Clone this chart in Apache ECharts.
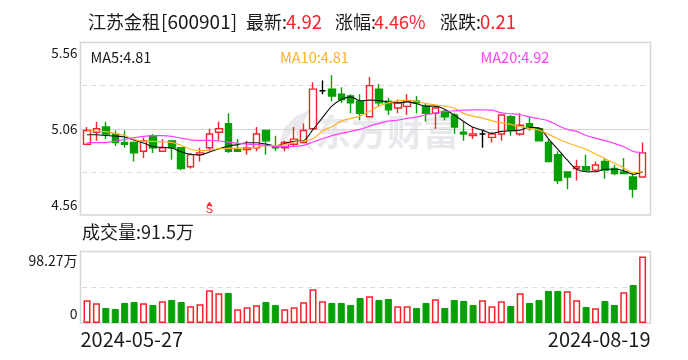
<!DOCTYPE html>
<html><head><meta charset="utf-8">
<style>html,body{margin:0;padding:0;background:#fff}#c{width:688px;height:360px}</style>
<script src="https://cdn.jsdelivr.net/npm/echarts@6/dist/echarts.min.js"></script>
</head><body><div id="c"></div>
<script>
const dates = ["2024-05-27","2024-05-28","2024-05-29","2024-05-30","2024-05-31","2024-06-03","2024-06-04","2024-06-05","2024-06-06","2024-06-07","2024-06-11","2024-06-12","2024-06-13","2024-06-14","2024-06-17","2024-06-18","2024-06-19","2024-06-20","2024-06-21","2024-06-24","2024-06-25","2024-06-26","2024-06-27","2024-06-28","2024-07-01","2024-07-02","2024-07-03","2024-07-04","2024-07-05","2024-07-08","2024-07-09","2024-07-10","2024-07-11","2024-07-12","2024-07-15","2024-07-16","2024-07-17","2024-07-18","2024-07-19","2024-07-22","2024-07-23","2024-07-24","2024-07-25","2024-07-26","2024-07-29","2024-07-30","2024-07-31","2024-08-01","2024-08-02","2024-08-05","2024-08-06","2024-08-07","2024-08-08","2024-08-09","2024-08-12","2024-08-13","2024-08-14","2024-08-15","2024-08-16","2024-08-19"];
const opens  = [4.97,5.04,5.07,5.03,4.98,4.98,4.93,5.02,4.93,4.99,4.95,4.84,4.91,4.95,5.04,5.09,4.94,4.94,4.95,5.05,4.96,4.95,4.97,4.98,5.06,5.28,5.29,5.26,5.25,5.22,5.13,5.29,5.22,5.18,5.19,5.22,5.19,5.15,5.16,5.14,5.04,5.02,5.03,5.01,5.03,5.13,5.03,5.09,5.06,4.98,4.91,4.81,4.83,4.84,4.82,4.87,4.83,4.81,4.78,4.78];
const closes = [5.05,5.06,5.03,4.98,4.97,4.92,4.99,4.95,4.95,4.95,4.83,4.91,4.92,5.03,5.06,4.93,4.93,4.95,5.03,4.99,4.95,4.98,5.00,5.05,5.29,5.28,5.25,5.23,5.21,5.15,5.31,5.21,5.17,5.21,5.22,5.21,5.15,5.18,5.13,5.07,5.03,5.03,5.03,5.03,5.14,5.05,5.08,5.07,4.99,4.87,4.76,4.78,4.84,4.82,4.85,4.82,4.80,4.80,4.71,4.92];
const lows   = [4.97,4.99,5.00,4.96,4.95,4.87,4.89,4.92,4.93,4.88,4.82,4.83,4.87,4.93,4.99,4.92,4.93,4.91,4.93,4.91,4.93,4.93,4.96,4.98,5.06,5.26,5.22,5.21,5.15,5.11,5.13,5.19,5.14,5.15,5.14,5.15,5.10,5.06,5.11,5.03,4.99,5.00,4.95,4.98,4.99,5.02,5.02,5.05,4.99,4.87,4.74,4.71,4.76,4.82,4.81,4.77,4.79,4.80,4.66,4.78];
const highs  = [5.07,5.10,5.10,5.05,5.05,4.98,5.01,5.03,5.00,4.99,4.95,4.92,4.95,5.06,5.10,5.15,5.00,4.99,5.07,5.05,5.02,4.99,5.07,5.09,5.33,5.34,5.37,5.30,5.26,5.26,5.36,5.32,5.24,5.23,5.26,5.25,5.21,5.19,5.17,5.15,5.10,5.07,5.05,5.04,5.14,5.14,5.15,5.13,5.07,5.00,4.93,4.81,4.88,4.91,4.87,4.89,4.85,4.89,4.80,4.98];
const ma5  = [5.025,5.025,5.021,5.018,5.012,4.994,4.977,4.956,4.952,4.948,4.927,4.912,4.908,4.925,4.944,4.96,4.968,4.979,4.979,4.971,4.96,4.975,4.987,4.991,5.056,5.124,5.191,5.23,5.245,5.222,5.226,5.224,5.214,5.21,5.216,5.205,5.191,5.191,5.172,5.139,5.102,5.068,5.052,5.033,5.045,5.048,5.052,5.068,5.064,5.002,4.941,4.879,4.825,4.811,4.811,4.825,4.825,4.817,4.796,4.81];
const ma10 = [5.047,5.045,5.043,5.033,5.021,4.998,4.987,4.987,4.985,4.981,4.964,4.941,4.933,4.937,4.944,4.946,4.948,4.948,4.952,4.962,4.962,4.968,4.983,4.989,5.002,5.047,5.072,5.104,5.12,5.133,5.162,5.191,5.21,5.222,5.226,5.218,5.206,5.199,5.191,5.179,5.149,5.133,5.122,5.106,5.095,5.085,5.072,5.062,5.052,5.029,5.002,4.979,4.96,4.941,4.914,4.887,4.86,4.833,4.806,4.81];
const ma20 = [4.979,4.979,4.979,4.989,4.998,5.008,5.016,5.02,5.02,5.016,5.006,4.996,4.993,4.993,4.989,4.983,4.975,4.971,4.968,4.964,4.958,4.958,4.958,4.964,4.983,5.002,5.02,5.033,5.045,5.056,5.075,5.091,5.104,5.11,5.12,5.127,5.141,5.151,5.16,5.164,5.168,5.17,5.17,5.168,5.152,5.147,5.141,5.129,5.118,5.106,5.079,5.056,5.045,5.021,5.006,4.991,4.975,4.956,4.929,4.921];
const volumes  = [31.2,27.1,20.7,19.3,27.5,28.9,27.1,24.8,29.8,31.7,28.9,23.0,25.7,45.0,40.9,41.3,18.8,21.6,24.3,28.9,24.8,18.8,21.6,28.5,46.4,29.8,27.5,27.5,24.8,34.4,36.7,31.7,33.0,23.0,23.0,20.7,27.5,32.6,20.7,31.7,30.3,24.8,31.2,23.0,29.8,23.4,40.9,27.5,31.7,44.1,44.1,43.6,31.2,22.0,20.2,30.3,24.8,42.2,52.3,91.5];
const volumeUp = [1,1,0,0,0,0,1,0,1,0,0,1,1,1,1,0,1,1,1,0,0,1,1,1,1,1,0,0,0,0,1,0,0,1,1,0,0,1,0,0,0,0,1,1,1,0,1,0,0,0,0,1,1,0,1,0,0,1,0,1];
const priceTicks = [4.56,5.06,5.56];
const priceDashes = [4.81,5.31];
const volumeTicks = [0,98.27];
const volumeDash = [49.135];
const dateLabels = ["2024-05-27","2024-08-19"];
const signalIndex = 13;

const RED='#f5242c', GREEN='#05a005', GRID='#d6d6d6', TXT='#1a1a1a';
const FONT='"Noto Sans CJK SC","Noto Sans",sans-serif';
const frame=(top,height)=>({left:80.5,width:570,top,height,show:true,borderColor:GRID,borderWidth:1.5,backgroundColor:'transparent'});
const inner=(top,height)=>({left:82.3,width:565,top,height});
const t=(x,y,text,fill,size)=>({type:'text',x,y,silent:true,style:{text,fill,font:`${size}px ${FONT}`,textVerticalAlign:'middle'}});
const chart=echarts.init(document.getElementById('c'),null,{renderer:'canvas'});
const dash={show:true,lineStyle:{color:'#dcdcdc',type:[5,4],width:1}};
const hiddenCat=(gridIndex)=>({type:'category',gridIndex,data:dates,show:false,boundaryGap:true});
chart.setOption({
  animation:false,
  backgroundColor:'#fff',
  grid:[frame(42.5,172.5),frame(251.5,71.5),inner(42.5,172.5),inner(251.5,71.5)],
  xAxis:[
    {type:'category',gridIndex:0,data:dateLabels,show:false,boundaryGap:false},
    {type:'category',gridIndex:1,data:dateLabels,boundaryGap:false,axisLine:{show:false},axisTick:{show:false},
     axisLabel:{show:true,interval:0,color:TXT,fontFamily:FONT,fontSize:20,margin:6,alignMinLabel:'left',alignMaxLabel:'right',hideOverlap:false}},
    hiddenCat(2),hiddenCat(3)
  ],
  yAxis:[
    {type:'value',gridIndex:0,min:4.56,max:5.56,axisLine:{show:false},axisTick:{show:false,customValues:[5.06]},
     splitLine:{show:true,lineStyle:{color:GRID,width:1}},
     axisLabel:{customValues:priceTicks,formatter:v=>v.toFixed(2),color:TXT,fontFamily:FONT,fontSize:13.5,margin:3,lineHeight:20,verticalAlignMinLabel:'bottom',verticalAlignMaxLabel:'top'}},
    {type:'value',gridIndex:1,min:0,max:98.27,axisLine:{show:false},axisTick:{show:false,customValues:[]},splitLine:{show:false},
     axisLabel:{customValues:volumeTicks,formatter:v=>v?v+'万':'0',color:TXT,fontFamily:FONT,fontSize:14,margin:3,lineHeight:18,verticalAlignMinLabel:'bottom',verticalAlignMaxLabel:'top'}},
    {type:'value',gridIndex:2,min:4.56,max:5.56,axisLine:{show:false},axisTick:{show:false,customValues:priceDashes},axisLabel:{show:false},splitLine:dash},
    {type:'value',gridIndex:3,min:0,max:98.27,axisLine:{show:false},axisTick:{show:false,customValues:volumeDash},axisLabel:{show:false},splitLine:dash}
  ],
  graphic:[
    {type:'text',x:315,y:132,z:-1,silent:true,style:{text:'东方财富',fill:'#e9e9ed',font:`bold 36px ${FONT}`,textVerticalAlign:'middle'}},
    {type:'polygon',z:-1,silent:true,shape:{points:[[278,150],[284,128],[296,116],[310,110],[303,124],[306,136],[314,152],[302,144],[294,130],[285,140]]},style:{fill:'#e9e9ed'}},
    t(88,22,'江苏金租',TXT,18),t(161,22,'[600901]',TXT,19),t(246,22,'最新:',TXT,18),t(286,22,'4.92',RED,18.5),
    t(335,22,'涨幅:',TXT,18),t(374,22,'4.46%',RED,18),t(440,22,'涨跌:',TXT,18),t(480,22,'0.21',RED,18.5),
    t(90.5,57,'MA5:4.81','#1a1a1a',14.5),t(280,57,'MA10:4.81','#ffb11f',14.5),t(480.5,57,'MA20:4.92','#ff40ff',14.5),
    t(82,232,'成交量:91.5万',TXT,18)
  ],
  series:[
    {type:'candlestick',xAxisIndex:2,yAxisIndex:2,barWidth:7,z:2,
     data:dates.map((d,i)=>[opens[i],closes[i],lows[i],highs[i]]),
     itemStyle:{color:'#fff',color0:GREEN,borderColor:RED,borderColor0:GREEN,borderColorDoji:'#000',borderWidth:1.4},
     markPoint:{silent:true,symbol:'triangle',symbolSize:[6,4],
       itemStyle:{color:RED},
       data:[{coord:[signalIndex,4.625],label:{show:true,formatter:'S',color:RED,fontSize:11,fontFamily:'Liberation Sans',position:'bottom',distance:-1}}]}},
    {type:'line',name:'MA5',xAxisIndex:2,yAxisIndex:2,data:ma5,smooth:0.3,showSymbol:false,z:3,lineStyle:{color:'#111',width:1.1}},
    {type:'line',name:'MA10',xAxisIndex:2,yAxisIndex:2,data:ma10,smooth:0.3,showSymbol:false,z:3,lineStyle:{color:'#ffb11f',width:1.2}},
    {type:'line',name:'MA20',xAxisIndex:2,yAxisIndex:2,data:ma20,smooth:0.3,showSymbol:false,z:3,lineStyle:{color:'#ff40ff',width:1.2}},
    {type:'bar',xAxisIndex:3,yAxisIndex:3,barWidth:7,
     data:volumes.map((v,i)=>({value:v,itemStyle:volumeUp[i]?{color:'#fff',borderColor:RED,borderWidth:1.5}:{color:GREEN,borderColor:GREEN,borderWidth:1}}))}
  ]
});
</script></body></html>
